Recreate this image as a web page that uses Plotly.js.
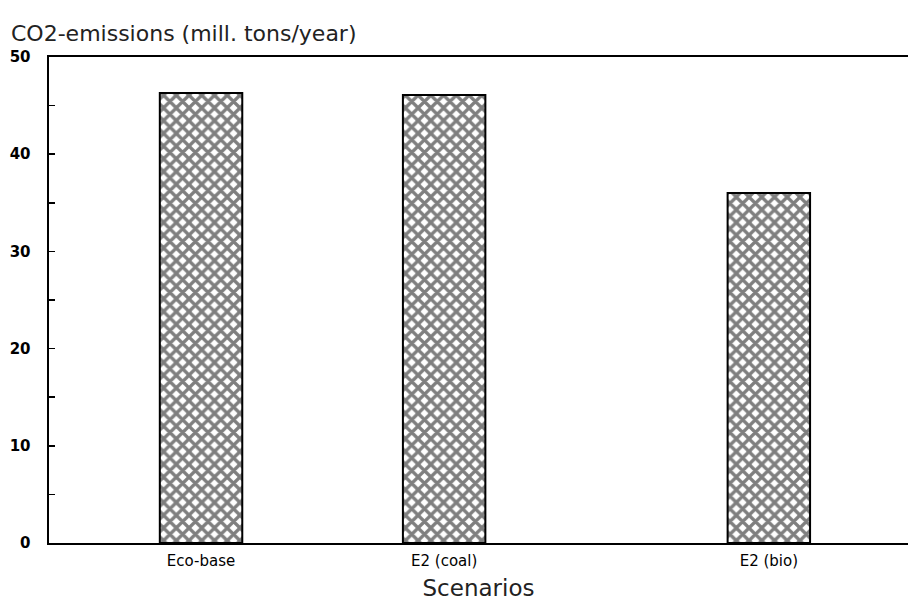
<!DOCTYPE html>
<html>
<head>
<meta charset="utf-8">
<script src="https://cdn.plot.ly/plotly-3.0.1.min.js"></script>
<style>html,body{margin:0;padding:0;background:#fff;}#chart{width:908px;height:601px;}</style>
</head>
<body>
<div id="chart"></div>
<script>
// Data
const scenarios = ["Eco-base", "E2 (coal)", "E2 (bio)"];
const scenarioPos = [1.77, 4.6, 8.38];
const co2 = [46.3, 46.1, 36.0];
const yTicks = [0, 10, 20, 30, 40, 50];

const trace = {
  type: 'bar',
  x: scenarioPos,
  y: co2,
  width: 0.96,
  marker: {
    color: '#ffffff',
    line: {color: '#000000', width: 2},
    pattern: {shape: 'x', size: 9, solidity: 0.6, fgcolor: '#000000', bgcolor: '#ffffff', fillmode: 'overlay'}
  },
  hoverinfo: 'x+y'
};

const layout = {
  width: 908, height: 601,
  margin: {l: 49, r: 0, t: 57, b: 58},
  paper_bgcolor: '#ffffff', plot_bgcolor: '#ffffff',
  font: {family: 'DejaVu Sans, Liberation Sans, sans-serif', color: '#000'},
  showlegend: false,
  title: {text: 'CO2-emissions (mill. tons/year)', x: 11/908, xanchor: 'left', xref: 'container', y: 1 - 33/601, yref: 'container', yanchor: 'middle', font: {size: 22, color: '#222'}},
  xaxis: {
    range: [0, 10],
    tickmode: 'array', tickvals: scenarioPos, ticktext: scenarios,
    ticks: '', showgrid: false, zeroline: false,
    showline: true, linecolor: '#000', linewidth: 2, mirror: true,
    tickfont: {size: 15}, ticklabelstandoff: 3,
    title: {text: 'Scenarios', font: {size: 23, color: '#222'}, standoff: 13}
  },
  yaxis: {
    range: [0, 50],
    tickmode: 'array', tickvals: yTicks,
    ticks: 'inside', ticklen: 6, tickcolor: '#000', tickwidth: 1.5,
    minor: {dtick: 5, ticks: 'inside', ticklen: 6, tickcolor: '#000', tickwidth: 1.5, showgrid: false},
    showgrid: false, zeroline: false,
    showline: true, linecolor: '#000', linewidth: 2.5,
    tickfont: {size: 15, weight: 'bold'}, ticklabelstandoff: 13
  },
  bargap: 0
};

Plotly.newPlot('chart', [trace], layout, {displayModeBar: false, staticPlot: true});
</script>
</body>
</html>
